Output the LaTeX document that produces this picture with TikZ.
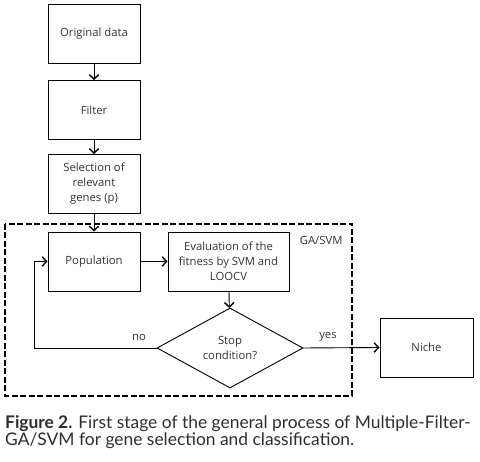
\documentclass[tikz,border=0pt]{standalone}
\usepackage{fontspec}
\setmainfont{Open Sans}
\newfontfamily\capfont{Lato}
\usetikzlibrary{arrows.meta,shapes.geometric}
\begin{document}
\begin{tikzpicture}[x=1pt,y=-1pt,
  box/.style={draw,line width=0.9pt,minimum width=92pt,minimum height=59pt,align=center,inner sep=1pt,font=\fontsize{11.3}{15}\selectfont\color{black!80}},
  arr/.style={line width=0.9pt,-{Straight Barb[length=4.5pt,width=9.5pt,line width=1.4pt]}},
  lbl/.style={font=\fontsize{11.3}{15}\selectfont\color{black!80}},
  captxt/.style={anchor=base west,inner sep=0pt,font=\capfont\fontsize{17.4}{17}\selectfont\color{black!82}}]
\useasboundingbox (0,0) rectangle (480,462);
\node[box] (orig) at (94,33.5) {Original data};
\node[box] (filt) at (94,110) {Filter};
\node[box] (sel) at (94,184) {Selection of\\relevant\\genes (p)};
\draw[line width=1.8pt,dash pattern=on 6pt off 2.5pt] (5,224) rectangle (352,396);
\node[box] (pop) at (94,261.5) {Population};
\node[box,minimum width=121pt] (eval) at (228.5,261.5) {Evaluation of the\\fitness by SVM and\\LOOCV};
\node[lbl,anchor=north east] (ga) at (346,233) {GA/SVM};
\node[draw,diamond,line width=0.9pt,aspect=1.82,minimum width=146pt,minimum height=80pt,inner sep=0pt,align=center,font=\fontsize{11.3}{15}\selectfont\color{black!80}] (stop) at (230,348) {Stop\\condition?};
\node[box,minimum width=93pt] (niche) at (426.5,347.5) {Niche};
\draw[arr] (orig) -- (filt);
\draw[arr] (filt) -- (sel);
\draw[arr] (sel) -- (pop);
\draw[arr] (pop) -- (eval);
\draw[arr] (eval) -- (stop);
\coordinate (lp) at (34,348);
\draw[arr] (stop.west) -- (lp) |- (pop.west);
\draw[arr] (stop.east) -- (niche.west);
\node[lbl] (no) at (139,337) {no};
\node[lbl] (yes) at (328,337) {yes};
\node[captxt] (cap1) at (5,429) {\textbf{Figure 2.} First stage of the general process of Multiple-Filter-};
\node[captxt] (cap2) at (5,446) {GA/SVM for gene selection and classification.};
\end{tikzpicture}
\end{document}
